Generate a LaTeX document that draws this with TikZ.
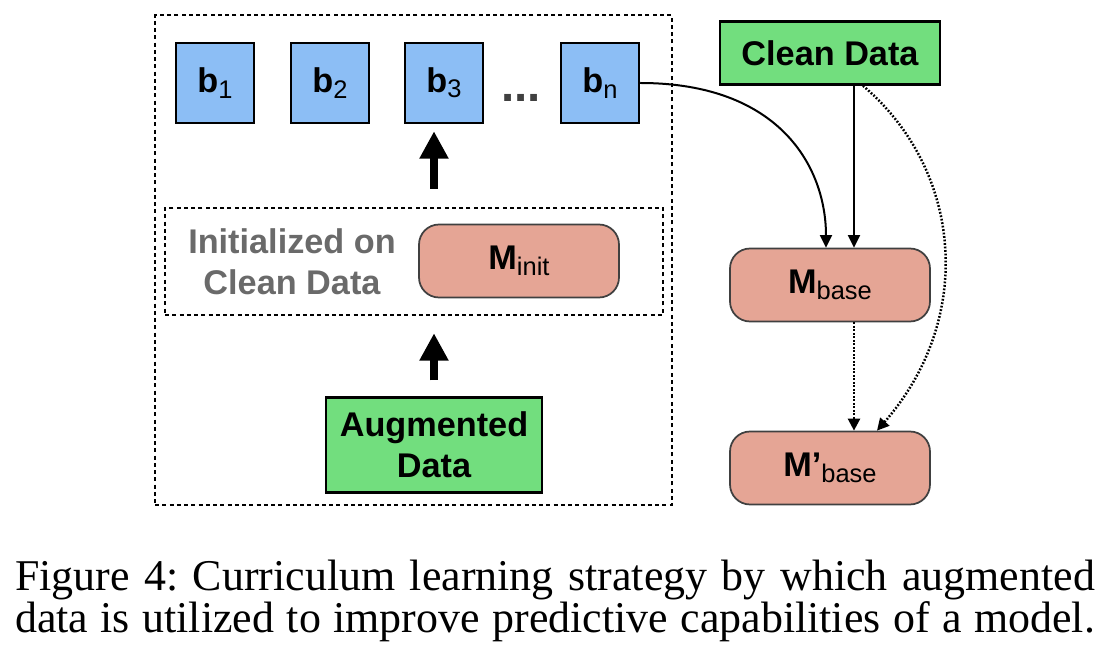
\documentclass[tikz,border=0pt]{standalone}
\usepackage{fontspec}
\setmainfont{Liberation Serif}
\setsansfont{Liberation Sans}
\usepackage{tikz}
\usetikzlibrary{arrows.meta,positioning}
\definecolor{batchblue}{HTML}{8CBEF5}
\definecolor{datagreen}{HTML}{72DE7E}
\definecolor{modelred}{HTML}{E5A595}
\definecolor{labelgray}{HTML}{6A6A6A}
\newcommand{\lowsub}[1]{\raisebox{-0.3ex}{\fontsize{14.5}{16}\selectfont\mdseries #1}}

\begin{document}
\begin{tikzpicture}[x=0.02cm,y=-0.02cm,>=Triangle,
  every node/.style={font=\sffamily\bfseries\fontsize{19.5}{23.5}\selectfont},
  batch/.style={draw,line width=0.05cm,fill=batchblue,minimum width=1.56cm,minimum height=1.6cm},
  data/.style={draw,line width=0.05cm,fill=datagreen,align=center,inner sep=0pt},
  model/.style={draw=black!75,line width=0.035cm,fill=modelred,rounded corners=0.4cm,minimum width=4cm,minimum height=1.46cm},
  box/.style={line width=0.05cm,dash pattern=on 0.08cm off 0.065cm,inner sep=0pt},
  fatarrow/.style={-{Triangle[length=0.55cm,width=0.55cm]},line width=0.15cm},
  link/.style={-{Triangle[length=0.25cm,width=0.24cm]},line width=0.04cm},
  dotlink/.style={-{Triangle[length=0.24cm,width=0.24cm]},line width=0.05cm,dash pattern=on 0.035cm off 0.035cm}]
\useasboundingbox (0,0) rectangle (1113,665);
% dashed frames
\node[box,draw,minimum width=10.34cm,minimum height=9.8cm] (outer) at (413.5,260) {};
\node[box,draw,minimum width=9.96cm,minimum height=2.14cm] (initbox) at (414,261.5) {};
% batches
\node[batch] (b1) at (215,83) {b\lowsub{1}};
\node[batch] (b2) at (330,83) {b\lowsub{2}};
\node[batch] (b3) at (444,83) {b\lowsub{3}};
\node[text=black!75,font=\sffamily\bfseries\fontsize{27}{27}\selectfont] (dots) at (521,98) {...};
\node[batch] (bn) at (600,83) {b\lowsub{n}};
% data and models
\node[data,minimum width=4.4cm,minimum height=1.26cm] (clean) at (830,53) {Clean Data};
\node[text=labelgray,align=center] (initlabel) at (292,262) {Initialized on\\Clean Data};
\node[model] (minit) at (519,261) {M\lowsub{init}};
\node[data,minimum width=4.32cm,minimum height=1.9cm] (aug) at (434,445) {Augmented\\Data};
\node[model] (mbase) at (830,285) {M\lowsub{base}};
\node[model] (mprime) at (830,468) {M’\lowsub{base}};
% arrows
\draw[fatarrow] ([yshift=0.36cm]initbox.north -| aug.north) -- ([yshift=-0.14cm]b3.south -| aug.north);
\draw[fatarrow] ([yshift=0.32cm]aug.north) -- ([yshift=-0.34cm]initbox.south -| aug.north);
\draw[link] (bn.east) .. controls +(140,0) and +(0,-80) .. ([xshift=-0.08cm]mbase.north);
\draw[link] ([xshift=0.48cm]clean.south) -- ([xshift=0.48cm]mbase.north);
\draw[dotlink] ([xshift=0.48cm]mbase.south) -- ([xshift=0.48cm]mprime.north);
\draw[dotlink] ([xshift=0.66cm]clean.south) .. controls +(100,85) and +(98,-112) .. ([xshift=0.94cm]mprime.north);
% caption
\node[font=\rmfamily\mdseries\fontsize{25}{24.4}\selectfont\frenchspacing,align=left,inner sep=0pt] (caption) at (555,601)
  {\makebox[21.6cm][s]{Figure 4: Curriculum learning strategy by which augmented}\\
   \makebox[21.6cm][s]{data is utilized to improve predictive capabilities of a model.}};
\end{tikzpicture}
\end{document}
